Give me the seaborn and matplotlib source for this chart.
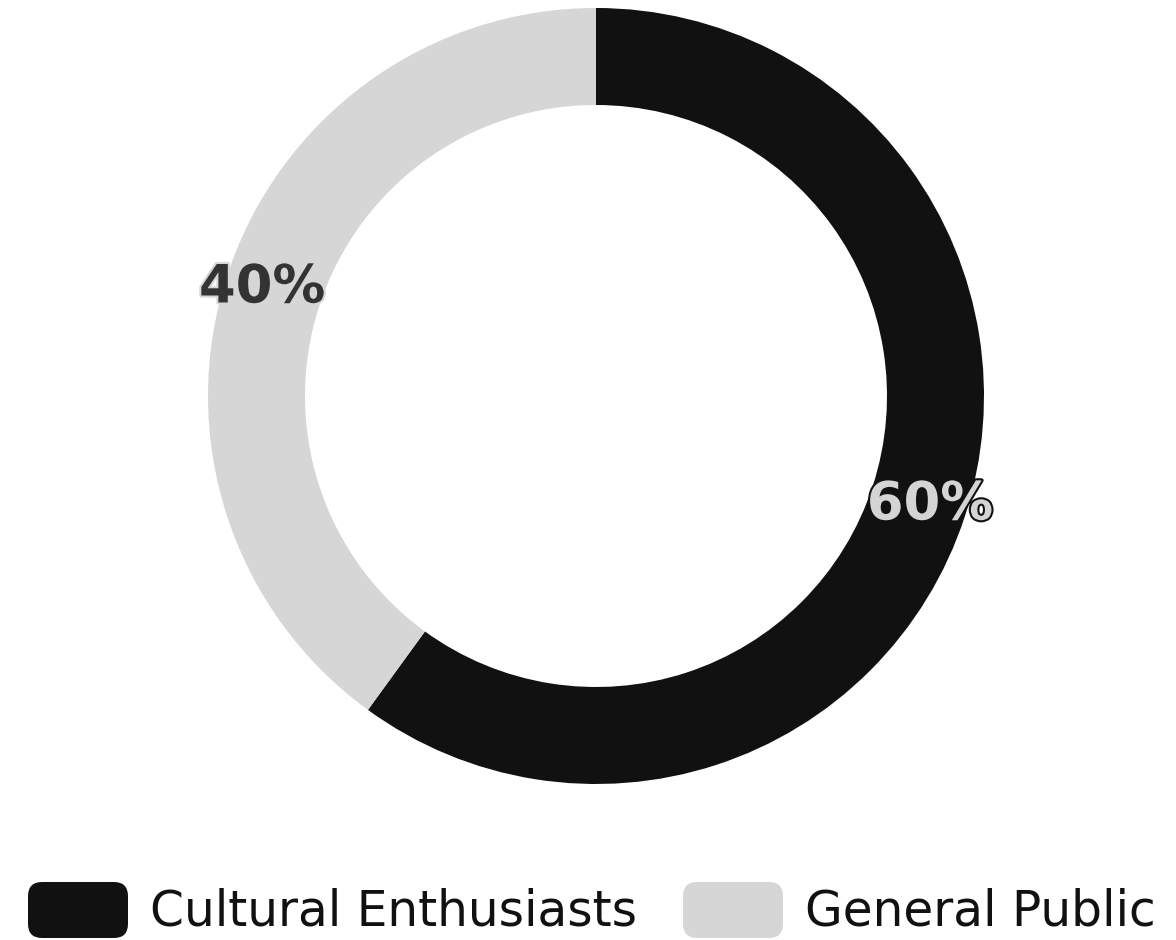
import matplotlib
matplotlib.use("Agg")
import matplotlib.pyplot as plt
import matplotlib.patheffects as pe
from matplotlib.patches import FancyBboxPatch
import seaborn as sns

# data
categories = ["Cultural Enthusiasts", "General Public"]
shares = [60, 40]
colors = ["#111111", "#d6d6d6"]
label_colors = ["#d4d4d4", "#333333"]
outline_colors = ["#111111", "#d6d6d6"]

sns.set_theme(style="white")
plt.rcParams["font.family"] = ["DejaVu Sans"]

fig = plt.figure(figsize=(11.76, 9.4), dpi=100)
ax = fig.add_axes([208 / 1176, 156 / 940, 776 / 1176, 776 / 940])

wedges, texts, autotexts = ax.pie(
    shares, colors=colors, startangle=90, counterclock=False, radius=1,
    wedgeprops=dict(width=0.25, edgecolor="none"),
    autopct="%d%%", pctdistance=0.905,
)
for t, c, oc in zip(autotexts, label_colors, outline_colors):
    t.set_color(c)
    t.set_fontsize(38)
    t.set_fontweight("bold")
    t.set_path_effects([pe.withStroke(linewidth=3, foreground=oc)])

ax.set_xlim(-1, 1)
ax.set_ylim(-1, 1)
ax.set_aspect("equal")
ax.axis("off")

# legend with rounded swatches
x = 28
for name, c in zip(categories, colors):
    box = FancyBboxPatch((x / 1176, 1 - 938 / 940), 100 / 1176, 56 / 940,
                         boxstyle="round,pad=0,rounding_size=0.012",
                         transform=fig.transFigure, facecolor=c, edgecolor="none",
                         mutation_aspect=1176 / 940)
    fig.patches.append(box)
    txt = fig.text((x + 122) / 1176, 1 - 911 / 940, name, fontsize=35,
                   color="#111111", va="center", ha="left")
    fig.canvas.draw()
    bb = txt.get_window_extent()
    x = bb.x1 + 46

fig.savefig("out.png", dpi=100, facecolor="white")
